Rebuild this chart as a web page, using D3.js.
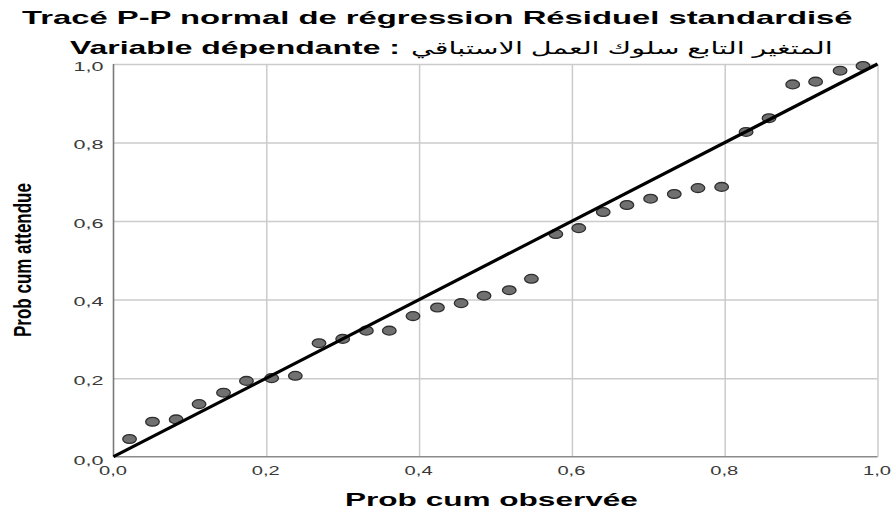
<!DOCTYPE html>
<html><head><meta charset="utf-8">
<script src="https://cdn.jsdelivr.net/npm/d3@7"></script>
<style>body{margin:0;background:#fff}svg{display:block}</style>
</head><body>
<svg id="c" width="891" height="512"></svg>
<script>
// ---- data ----
const observed = [0.021,0.051,0.082,0.112,0.144,0.174,0.207,0.238,0.269,0.300,0.331,0.361,0.392,0.424,0.455,0.485,
                  0.518,0.547,0.579,0.609,0.641,0.672,0.703,0.734,0.765,0.796,0.828,0.858,0.889,0.919,0.951,0.981];
const expected = [0.045,0.089,0.095,0.134,0.163,0.193,0.200,0.206,0.289,0.300,0.321,0.321,0.358,0.380,0.391,0.410,
                  0.424,0.453,0.567,0.582,0.623,0.641,0.657,0.669,0.684,0.687,0.827,0.862,0.948,0.955,0.983,0.995];
const tickValues = [0, 0.2, 0.4, 0.6, 0.8, 1.0];
const titleText = "Tracé P-P normal de régression Résiduel standardisé";
const subtitleLatin = "Variable dépendante :";
const subtitleArabic = "المتغير التابع سلوك العمل الاستباقي";
const xLabel = "Prob cum observée";
const yLabel = "Prob cum attendue";

const svg = d3.select("#c");
const FONT = "'Liberation Sans', Arial, 'DejaVu Sans', sans-serif";
const L = 113.5, R = 877.5, T = 64, B = 456.7;
const x = d3.scaleLinear().domain([0,1]).range([L,R]);
const y = d3.scaleLinear().domain([0,1]).range([B,T]);
const fmt = v => d3.format(".1f")(v).replace(".", ",");

function stretch(t, width) {
  const w = t.node().getComputedTextLength();
  return width / w;
}

// gridlines
const gx = svg.append("g").attr("transform", `translate(0,${B})`)
  .call(d3.axisBottom(x).tickValues(tickValues.slice(1)).tickSize(-(B-T)).tickFormat(""));
const gy = svg.append("g").attr("transform", `translate(${L},0)`)
  .call(d3.axisLeft(y).tickValues(tickValues.slice(1)).tickSize(-(R-L)).tickFormat(""));
[gx, gy].forEach(g => {
  g.select(".domain").remove();
  g.selectAll("line").attr("stroke", "#cbcbcb").attr("stroke-width", 1.5);
});

// axis lines
svg.append("line").attr("x1", L).attr("x2", L).attr("y1", T).attr("y2", B)
  .attr("stroke", "#7a7a7a").attr("stroke-width", 1.6);
svg.append("line").attr("x1", L).attr("x2", R).attr("y1", B).attr("y2", B)
  .attr("stroke", "#8a8a8a").attr("stroke-width", 1.6);

// tick labels
const ax = svg.append("g").attr("transform", `translate(0,${B})`)
  .call(d3.axisBottom(x).tickValues(tickValues).tickSize(0).tickFormat(fmt));
const ay = svg.append("g").attr("transform", `translate(${L},0)`)
  .call(d3.axisLeft(y).tickValues(tickValues).tickSize(0).tickFormat(fmt));
[ax, ay].forEach(g => {
  g.select(".domain").remove();
  g.selectAll("text").attr("font-family", FONT).attr("font-size", 12).attr("fill", "#3a3a3a")
    .attr("x", 0).attr("y", 0).attr("dy", "0.35em");
});
ax.selectAll("text").attr("text-anchor", "middle").each(function(){
  const t = d3.select(this); const s = stretch(t, 28);
  t.attr("transform", `translate(-1,14) scale(${s},1)`);
});
ay.selectAll("text").attr("text-anchor", "end").each(function(d){
  const t = d3.select(this); const s = stretch(t, 30);
  t.attr("transform", `translate(-10,${d === 0 ? 4 : 2}) scale(${s},1)`);
});

// points
svg.append("g").selectAll("ellipse").data(observed.map((o,i)=>[o, expected[i]])).join("ellipse")
  .attr("cx", d => x(d[0])).attr("cy", d => y(d[1]))
  .attr("rx", 6.8).attr("ry", 4.4)
  .attr("fill", "#707070").attr("stroke", "#2e2e2e").attr("stroke-width", 1.3);

// reference line
svg.append("line").attr("x1", x(0)).attr("y1", y(0)).attr("x2", x(1)).attr("y2", y(1))
  .attr("stroke", "#000").attr("stroke-width", 3.2);

// titles
function fitText(str, x0, yb, width, size, weight) {
  const t = svg.append("text").text(str).attr("font-family", FONT).attr("font-size", size)
    .attr("font-weight", weight).attr("fill", "#000").attr("text-anchor", "start");
  const s = stretch(t, width);
  t.attr("transform", `translate(${x0},${yb}) scale(${s},1)`);
  return t;
}
fitText(titleText, 22, 24, 831, 19, "bold");
fitText(subtitleLatin, 70, 54, 330, 18, "bold");
fitText(subtitleArabic, 411, 54, 422, 17, "normal");
fitText(xLabel, 345, 506, 293, 18, "bold");

const yl = svg.append("text").text(yLabel).attr("font-family", FONT).attr("font-size", 20)
  .attr("font-weight", "bold").attr("fill", "#000").attr("text-anchor", "start");
const sy = stretch(yl, 154);
yl.attr("transform", `translate(31,337) rotate(-90) scale(${sy},1.15)`);
</script>
</body></html>
